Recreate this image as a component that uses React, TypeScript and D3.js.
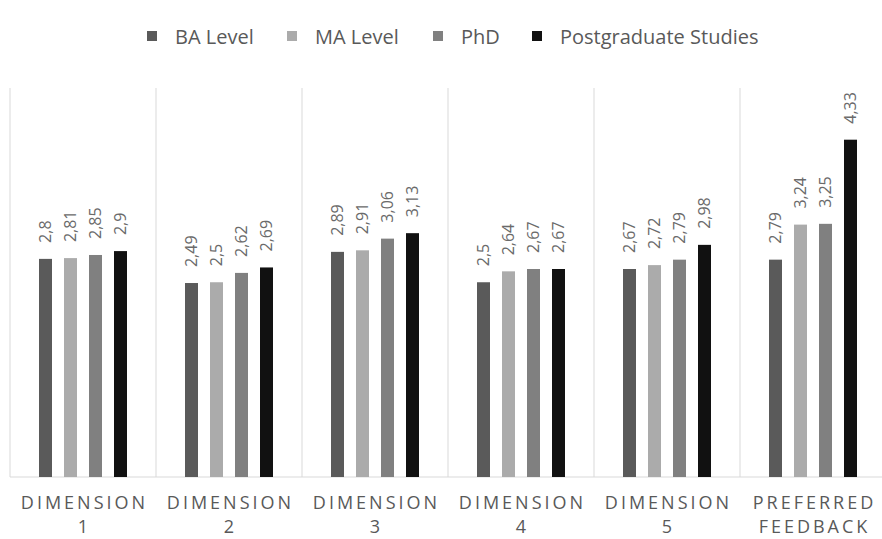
import * as React from 'react';
import * as d3 from 'd3';

const categories = ['DIMENSION 1', 'DIMENSION 2', 'DIMENSION 3', 'DIMENSION 4', 'DIMENSION 5', 'PREFERRED FEEDBACK'];
const categoryLines = [
  ['DIMENSION', '1'],
  ['DIMENSION', '2'],
  ['DIMENSION', '3'],
  ['DIMENSION', '4'],
  ['DIMENSION', '5'],
  ['PREFERRED', 'FEEDBACK'],
];
const seriesNames = ['BA Level', 'MA Level', 'PhD', 'Postgraduate Studies'];
const seriesColors = ['#5a5a5a', '#ababab', '#808080', '#111111'];
const baLevel = [2.8, 2.49, 2.89, 2.5, 2.67, 2.79];
const maLevel = [2.81, 2.5, 2.91, 2.64, 2.72, 3.24];
const phd = [2.85, 2.62, 3.06, 2.67, 2.79, 3.25];
const postgraduate = [2.9, 2.69, 3.13, 2.67, 2.98, 4.33];
const seriesValues = [baLevel, maLevel, phd, postgraduate];

const W = 882;
const H = 539;
const FONT = '"Open Sans", "DejaVu Sans", sans-serif';

export default function App() {
  const margin = { top: 88, left: 10, right: -4, bottom: 62 };
  const baseY = H - margin.bottom;

  const x0 = d3.scaleBand<string>().domain(categories).range([margin.left, W - margin.right]).padding(0);
  const x1 = d3
    .scaleBand<string>()
    .domain(seriesNames)
    .range([0, x0.bandwidth()])
    .paddingInner(0.48)
    .paddingOuter(1.16);
  const y = d3.scaleLinear().domain([0, 5]).range([baseY, baseY - 5 * 77.9]);

  const fmt = (v: number) => String(v).replace('.', ',');

  // legend layout
  const legendX = [147, 287, 433, 532];

  return (
    <svg
      width={W}
      height={H}
      style={{ position: 'absolute', left: 0, top: 0, background: '#fff', fontFamily: FONT }}
    >
      {/* legend */}
      {seriesNames.map((s, i) => (
        <g key={s} transform={`translate(${legendX[i]},0)`}>
          <rect x={0} y={31} width={10} height={10} fill={seriesColors[i]} />
          <text x={28} y={37} dy="0.35em" fontSize={20} fill="#595959">
            {s}
          </text>
        </g>
      ))}

      {/* separators */}
      {categories.map((c) => (
        <line
          key={c}
          x1={x0(c)!}
          x2={x0(c)!}
          y1={margin.top}
          y2={baseY}
          stroke="#d9d9d9"
          strokeWidth={1}
        />
      ))}
      <line x1={margin.left} x2={W} y1={baseY} y2={baseY} stroke="#d9d9d9" strokeWidth={1} />

      {/* bars */}
      {categories.map((c, ci) => (
        <g key={c} transform={`translate(${x0(c)},0)`}>
          {seriesNames.map((s, si) => {
            const v = seriesValues[si][ci];
            const bx = x1(s)!;
            const cx = bx + x1.bandwidth() / 2;
            return (
              <g key={s}>
                <rect x={bx} y={y(v)} width={x1.bandwidth()} height={baseY - y(v)} fill={seriesColors[si]} />
                <text
                  transform={`translate(${cx},${y(v) - 16}) rotate(-90)`}
                  dy="0.35em"
                  fontSize={16}
                  fill="#6a6a6a"
                >
                  {fmt(v)}
                </text>
              </g>
            );
          })}
          {categoryLines[ci].map((t, li) => (
            <text
              key={li}
              x={x0.bandwidth() / 2 + 1.5}
              y={baseY + 32 + li * 24}
              textAnchor="middle"
              fontSize={18}
              letterSpacing={3}
              fill="#595959"
            >
              {t}
            </text>
          ))}
        </g>
      ))}
    </svg>
  );
}
